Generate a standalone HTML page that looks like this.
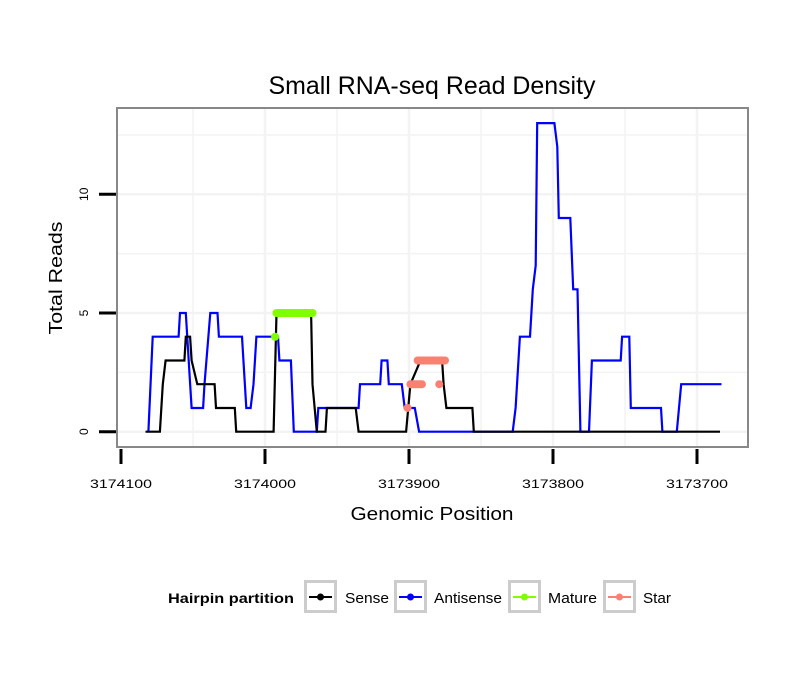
<!DOCTYPE html>
<html><head><meta charset="utf-8"><style>
body{margin:0;background:#fff;}
svg text{font-family:"Liberation Sans",sans-serif;}
</style></head><body>
<svg id="chart" width="810" height="690" viewBox="0 0 810 690" xmlns="http://www.w3.org/2000/svg">
<rect x="0" y="0" width="810" height="690" fill="#fff"/>
<text x="432" y="94" font-size="25" text-anchor="middle" textLength="327" lengthAdjust="spacingAndGlyphs">Small RNA-seq Read Density</text>
<g id="grid"></g>
<g id="series"></g>
<rect x="117" y="108" width="631" height="339" fill="none" stroke="#888" stroke-width="2"/>
<g id="axes"></g>
<text x="432" y="520" font-size="18" text-anchor="middle" textLength="163" lengthAdjust="spacingAndGlyphs">Genomic Position</text>
<text transform="translate(62,278) rotate(-90)" font-size="18" text-anchor="middle" textLength="113" lengthAdjust="spacingAndGlyphs">Total Reads</text>
<g>
<text x="168" y="603" font-size="14" font-weight="bold" textLength="126" lengthAdjust="spacingAndGlyphs">Hairpin partition</text>
<g id="legend"></g>
</g>
</svg>
<script>
const xTicks=[3174100,3174000,3173900,3173800,3173700];
const xTickLabels=["3174100","3174000","3173900","3173800","3173700"];
const yTicks=[0,5,10];
const yTickLabels=["0","5","10"];
const sensePos=[3174083,3174073,3174071,3174069,3174056,3174055,3174052,3174051,3174047,3174035,3174034,3174021,3174020,3173994,3173992,3173968,3173967,3173964,3173958,3173957,3173937,3173935,3173902,3173899,3173892,3173877,3173876,3173874,3173856,3173855,3173684];
const senseVal=[0,0,2,3,3,4,4,3,2,2,1,1,0,0,5,5,2,0,0,1,1,0,0,2,3,3,2,1,1,0,0];
const antiPos=[3174081,3174078,3174060,3174059,3174055,3174051,3174043,3174042,3174038,3174033,3174032,3174016,3174013,3174010,3174008,3174006,3173991,3173990,3173982,3173980,3173964,3173963,3173935,3173934,3173920,3173919,3173915,3173914,3173905,3173903,3173896,3173893,3173828,3173826,3173823,3173816,3173815,3173814,3173812,3173811,3173799,3173797,3173796,3173788,3173786,3173783,3173781,3173775,3173773,3173753,3173752,3173747,3173746,3173725,3173724,3173714,3173711,3173683];
const antiVal=[0,4,4,5,5,1,1,2,5,5,4,4,1,1,2,4,4,3,3,0,0,1,1,2,2,3,3,2,2,1,1,0,0,1,4,4,5,6,7,13,13,12,9,9,6,6,0,0,3,3,4,4,1,1,0,0,2,2];
const matureStart=[3173993,3173992];
const matureEnd=[3173993,3173967];
const matureVal=[4,5];
const starStart=[3173901,3173899,3173894,3173879];
const starEnd=[3173901,3173891,3173875,3173879];
const starVal=[1,2,3,2];
const legendLabels=["Sense","Antisense","Mature","Star"];
const legendColors=["#000000","#0000ff","#7fff00","#fa8072"];

const NS="http://www.w3.org/2000/svg";
function X(p){return 121+(3174100-p)*1.44;}
function Y(v){return 431.7-v*23.74;}
function mk(tag,attrs,parent){const e=document.createElementNS(NS,tag);for(const k in attrs)e.setAttribute(k,attrs[k]);parent.appendChild(e);return e;}
const grid=document.getElementById('grid'),series=document.getElementById('series'),axes=document.getElementById('axes'),legend=document.getElementById('legend');
[3174050,3174000,3173950,3173900,3173850,3173800,3173750,3173700].forEach(p=>{
 const l=mk('line',{x1:X(p),x2:X(p),y1:109,y2:446,stroke:'#f3f3f3','stroke-width':p%100===0?2.5:1.5},grid);
 
 
});
[0,2.5,5,7.5,10,12.5].forEach(v=>{
 const l=mk('line',{x1:118,x2:747,y1:Y(v),y2:Y(v),stroke:'#f3f3f3','stroke-width':v%5===0?2.5:1.5},grid);
 
 
});
xTicks.forEach((p,i)=>{
 const t=mk('line',{x1:X(p),x2:X(p),y1:449,y2:464,stroke:'#000','stroke-width':3},axes);
 
 
 const tx=mk('text',{x:X(p),y:488,'font-size':12,'text-anchor':'middle',textLength:62,lengthAdjust:'spacingAndGlyphs'},axes);
 tx.textContent=xTickLabels[i];
 
 
});
yTicks.forEach((v,i)=>{
 const t=mk('line',{x1:99,x2:116,y1:Y(v),y2:Y(v),stroke:'#000','stroke-width':3},axes);
 
 
 const tx=mk('text',{transform:`translate(88,${Y(v)}) rotate(-90)`,'font-size':12,'text-anchor':'middle'},axes);
 tx.textContent=yTickLabels[i];
 
 
});
function line(pos,val,color,name){
 const pts=pos.map((p,i)=>X(p).toFixed(1)+','+Y(val[i]).toFixed(1)).join(' ');
 const pl=mk('polyline',{points:pts,fill:'none',stroke:color,'stroke-width':2.2,'stroke-linejoin':'miter'},series);
 
 
}
line(antiPos,antiVal,'#0000ff','antisense-line');
line(sensePos,senseVal,'#000000','sense-line');
function segs(s,e,v,color,name){
 s.forEach((p,i)=>{
  const l=mk('line',{x1:X(p),x2:X(e[i]),y1:Y(v[i]),y2:Y(v[i]),stroke:color,'stroke-width':8,'stroke-linecap':'round'},series);
  
  
 });
}
segs(matureStart,matureEnd,matureVal,'#7fff00','mature-segment');
segs(starStart,starEnd,starVal,'#fa8072','star-segment');
const boxX=[304,394,508,603],textX=[345,434,548,643],textW=[44,68,49,28];
legendLabels.forEach((lab,i)=>{
 const g=mk('g',{},legend);
 
 
 mk('rect',{x:boxX[i]+1.5,y:581.5,width:30,height:30,fill:'#fff',stroke:'#ccc','stroke-width':3},g);
 mk('line',{x1:boxX[i]+5,x2:boxX[i]+28,y1:597,y2:597,stroke:legendColors[i],'stroke-width':2},g);
 mk('circle',{cx:boxX[i]+16.5,cy:597,r:3.5,fill:legendColors[i]},g);
 const t=mk('text',{x:textX[i],y:603,'font-size':15,textLength:textW[i],lengthAdjust:'spacingAndGlyphs'},g);
 t.textContent=lab;
});
</script>
</body></html>
